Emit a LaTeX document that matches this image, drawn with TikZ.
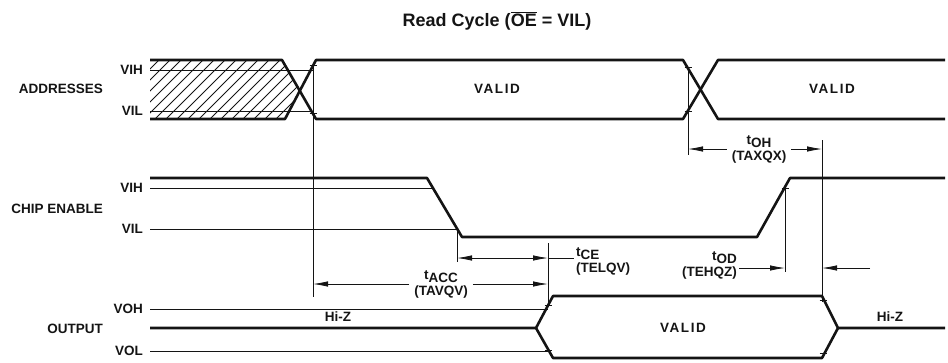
\documentclass[tikz,border=0pt]{standalone}
\usepackage{fontspec}
\setmainfont{Liberation Sans}
\usepackage{tikz}
\usetikzlibrary{
  arrows.meta,
  positioning,
  calc
}
\definecolor{tdInk}{HTML}{141414}
\newcommand{\tsym}[1]{t\raisebox{-3pt}{#1}}
\tikzset{
  sigline/.style={line width=2.6pt, tdInk, line join=round},
  refline/.style={line width=0.8pt, tdInk},
  hatchline/.style={line width=0.8pt, tdInk},
  tickmark/.style={line width=0.8pt, tdInk},
  dimarrow/.style={-{Latex[length=15pt, width=5.5pt]}, line width=0.8pt, tdInk},
  dimboth/.style={{Latex[length=15pt, width=5.5pt]}-{Latex[length=15pt, width=5.5pt]}, line width=0.8pt, tdInk},
  signame/.style={font=\fontsize{13.5}{14}\selectfont\bfseries, anchor=east, inner sep=0pt, tdInk},
  lvlname/.style={font=\fontsize{13.5}{14}\selectfont\bfseries, anchor=east, inner sep=0pt, tdInk},
  datatag/.style={font=\fontsize{13.5}{14}\selectfont\bfseries\addfontfeature{LetterSpace=12}, inner sep=0pt, tdInk},
  hiztag/.style={font=\fontsize{13.5}{14}\selectfont\bfseries, inner sep=0pt, tdInk},
  timetag/.style={font=\fontsize{13.5}{16}\selectfont\bfseries, align=center, inner sep=1pt, inner xsep=5pt, tdInk}
}

\begin{document}
\begin{tikzpicture}[x=1pt, y=-1pt]
  \useasboundingbox (0,0) rectangle (948,362);

  \node[font=\fontsize{18}{19}\selectfont\bfseries, tdInk] (title) at (497,21)
    {Read Cycle (\(\overline{\mbox{OE}}\) = VIL)};

  \foreach \y/\name/\txt in {89/addr/ADDRESSES, 209/chip/CHIP ENABLE, 329/outp/OUTPUT}
    \node[signame] (\name) at (103,\y) {\txt};
  \foreach \y/\name/\txt in {70/aVih/VIH, 111/aVil/VIL, 188/cVih/VIH, 229/cVil/VIL, 309/oVoh/VOH, 351/oVol/VOL}
    \node[lvlname] (\name) at (143,\y) {\txt};

  \begin{scope}
    \clip (150,60) -- (282,60) -- (299,89.5) -- (285,119) -- (150,119) -- cycle;
    \foreach \x in {100,111,...,300}
      \draw[hatchline] (\x,119) -- ++(60,-60);
  \end{scope}

  \coordinate (tAv) at (313,65);
  \coordinate (tAx) at (688,67);
  \coordinate (tCl) at (457,229);
  \coordinate (tCh) at (785,188);
  \coordinate (tQv) at (548,305);
  \coordinate (tQz) at (822,302);

  \draw[refline] ([xshift=7pt]aVih.east) -- (tAv |- aVih);
  \draw[refline] ([xshift=7pt]aVil.east) -- (tAv |- aVil);
  \draw[refline] ([xshift=7pt]cVih.east) -- (433,188);
  \draw[refline] ([xshift=7pt]cVil.east) -- (tCl);
  \draw[refline] ([xshift=7pt]oVoh.east) -- (tQv |- oVoh);
  \draw[refline] ([xshift=7pt]oVol.east) -- (tQv |- oVol);

  \draw[sigline] (150,60) -- (282,60) -- (316,119) -- (683,119) -- (718,60) -- (945,60);
  \draw[sigline] (150,119) -- (285,119) -- (316,60) -- (683,60) -- (718,119) -- (945,119);
  \draw[sigline] (150,178) -- (427,178) -- (462,237) -- (757,237) -- (790,178) -- (945,178);
  \draw[sigline] (150,328) -- (536,328) -- (553,296) -- (822,296) -- (838,328) -- (945,328);
  \draw[sigline] (536,328) -- (553,358) -- (822,358) -- (838,328);

  \node[datatag] (valA) at (497,89) {VALID};
  \node[datatag] (valB) at (832,89) {VALID};
  \node[datatag] (valQ) at (683,328) {VALID};
  \node[hiztag] (hizL) at (338,317) {Hi-Z};
  \node[hiztag] (hizR) at (890,317) {Hi-Z};

  \draw[refline] (tAv) -- ++(0,232);
  \draw[refline] (tAx) -- ++(0,88);
  \draw[refline] (tCl) -- ++(0,33);
  \draw[refline] (tQv) -- ++(0,-62);
  \draw[refline] (tCh) -- ++(0,84);
  \draw[refline] (tQz) -- ++(0,-162);

  \foreach \px/\py in {313/65, 313/113, 688/67, 688/111, 785/188, 548/305, 548/350, 823/300, 823/353}
    \draw[tickmark] (\px-3.5,\py) -- (\px+3.5,\py);

  \node[timetag] (acc) at (441,284) {\tsym{ACC}\\(TAVQV)};
  \draw[dimarrow] (acc.west) -- (tAv |- acc.west);
  \draw[dimarrow] (acc.east) -- (tQv |- acc.east);

  \node[timetag, anchor=west, align=left, inner xsep=2pt] (ceT) at (574,261) {\tsym{CE}\\(TELQV)};
  \coordinate (ceY) at (0,258);
  \draw[dimboth] (tCl |- ceY) -- (tQv |- ceY);
  \draw[refline] (tQv |- ceY) -- (ceT.west |- ceY);

  \node[timetag, anchor=east, align=right, inner xsep=2pt] (odT) at (739,265) {\tsym{OD}\\(TEHQZ)};
  \coordinate (odR) at (870,268);
  \draw[dimarrow] (odT.east |- odR) -- (tCh |- odR);
  \draw[dimarrow] (odR) -- (tQz |- odR);

  \node[timetag] (ohT) at (759,149) {\tsym{OH}\\(TAXQX)};
  \draw[dimarrow] (ohT.west) -- (tAx |- ohT.west);
  \draw[dimarrow] (ohT.east) -- (tQz |- ohT.east);
\end{tikzpicture}
\end{document}
